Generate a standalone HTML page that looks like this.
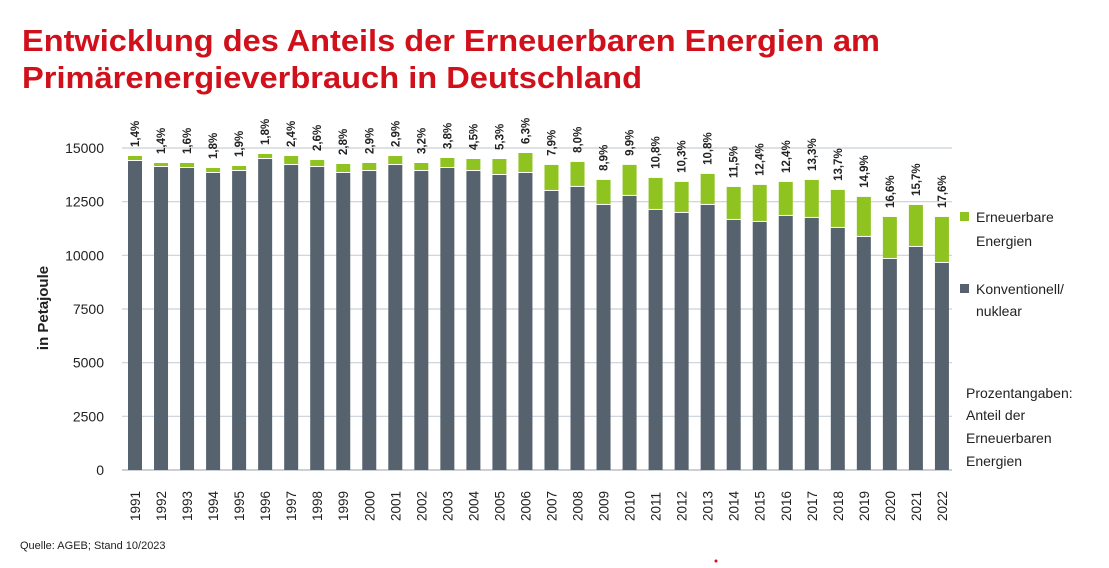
<!DOCTYPE html>
<html><head><meta charset="utf-8"><style>
body{margin:0;background:#fff;font-family:"Liberation Sans",sans-serif}
svg text{font-family:"Liberation Sans",sans-serif}
</style></head><body>
<svg id="c" width="1109" height="563" viewBox="0 0 1109 563" xmlns="http://www.w3.org/2000/svg">
<text x="22" y="51" font-size="31" font-weight="bold" fill="#d0101a" textLength="858" lengthAdjust="spacingAndGlyphs">Entwicklung des Anteils der Erneuerbaren Energien am</text>
<text x="22" y="88" font-size="31" font-weight="bold" fill="#d0101a" textLength="620" lengthAdjust="spacingAndGlyphs">Primärenergieverbrauch in Deutschland</text>
<text transform="translate(48,308) rotate(-90)" text-anchor="middle" font-size="15" font-weight="bold" fill="#222">in Petajoule</text>
<g id="grid"></g><g id="bars"></g><g id="labels"></g>
<rect x="960" y="212" width="9" height="9" fill="#8fc31f"/>
<text x="976" y="222" font-size="14" fill="#222">Erneuerbare</text>
<text x="976" y="246" font-size="14" fill="#222">Energien</text>
<rect x="960" y="284" width="9" height="9" fill="#56626d"/>
<text x="976" y="294" font-size="14" fill="#222">Konventionell/</text>
<text x="976" y="316" font-size="14" fill="#222">nuklear</text>
<g font-size="14" fill="#222">
<text x="966" y="398">Prozentangaben:</text>
<text x="966" y="420">Anteil der</text>
<text x="966" y="443">Erneuerbaren</text>
<text x="966" y="466">Energien</text></g>
<text x="20" y="549" font-size="11" fill="#222">Quelle: AGEB; Stand 10/2023</text>
<circle cx="716" cy="561" r="1.5" fill="#d0101a"/>
</svg>
<script>
const years=[1991,1992,1993,1994,1995,1996,1997,1998,1999,2000,2001,2002,2003,2004,2005,2006,2007,2008,2009,2010,2011,2012,2013,2014,2015,2016,2017,2018,2019,2020,2021,2022];
const conventional=[14394,14114,14068,13835,13928,14487,14207,14114,13835,13928,14207,13928,14068,13928,13742,13835,13000,13187,12348,12768,12115,11975,12348,11649,11556,11835,11742,11276,10857,9831,10390,9645];
const renewable=[233,186,233,233,233,233,419,326,419,373,419,373,466,559,745,932,1211,1165,1165,1445,1491,1445,1445,1537,1724,1584,1770,1771,1864,1957,1957,2143];
const shareLabels=["1,4%","1,4%","1,6%","1,8%","1,9%","1,8%","2,4%","2,6%","2,8%","2,9%","2,9%","3,2%","3,8%","4,5%","5,3%","6,3%","7,9%","8,0%","8,9%","9,9%","10,8%","10,3%","10,8%","11,5%","12,4%","12,4%","13,3%","13,7%","14,9%","16,6%","15,7%","17,6%"];
const yTicks=[0,2500,5000,7500,10000,12500,15000];
const NS="http://www.w3.org/2000/svg";
const y=v=>470-v*322/15000;
const x=i=>135+i*26.03;
const bw=14;
function mk(t,a,p){const e=document.createElementNS(NS,t);for(const k in a)e.setAttribute(k,a[k]);p.appendChild(e);return e;}
const grid=document.getElementById('grid'),bars=document.getElementById('bars'),labels=document.getElementById('labels');
yTicks.forEach(v=>{
 const l=mk('line',{x1:122,x2:952,y1:y(v),y2:y(v),stroke:v===0?'#b8c0c8':'#c8d0d8','stroke-width':v===0?1.5:1.2},grid);
 
 
 const t=mk('text',{x:104,y:y(v)+5,'text-anchor':'end','font-size':14,fill:'#222'},grid);
 t.textContent=v;
 
 
});
years.forEach((yr,i)=>{
 const c=conventional[i],r=renewable[i];
 const b1=mk('rect',{x:x(i)-bw/2,y:y(c),width:bw,height:y(0)-y(c),fill:'#56626d'},bars);
 
 
 const b2=mk('rect',{x:x(i)-bw/2,y:y(c+r),width:bw,height:y(c)-y(c+r)-1,fill:'#8fc31f'},bars);
 
 
 const t=mk('text',{transform:`translate(${x(i)+4},${y(c+r)-9}) rotate(-90)`,'font-size':11.5,'font-weight':'bold',fill:'#222'},labels);
 t.textContent=shareLabels[i];
 
 
 const yl=mk('text',{transform:`translate(${x(i)+5},${521}) rotate(-90)`,'font-size':13.5,fill:'#222'},labels);
 yl.textContent=yr;
 
 
});
</script>
</body></html>
